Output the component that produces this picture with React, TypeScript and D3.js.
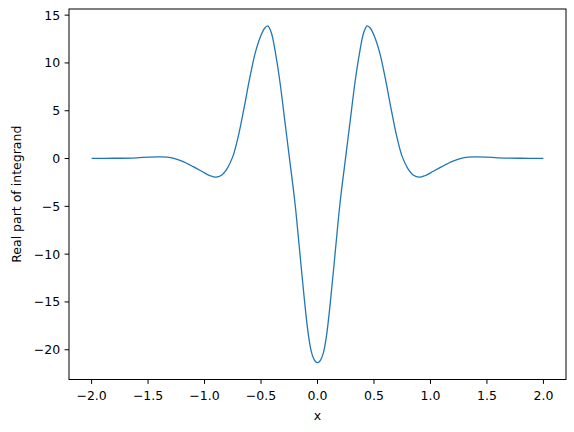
import { useMemo } from "react";
import * as d3 from "d3";

const WIDTH = 574;
const HEIGHT = 432;
const FRAME = { left: 69, right: 566, top: 9, bottom: 379.5 };

// values
const xValues = [
  -2.0, -1.8, -1.6, -1.5, -1.4, -1.3, -1.2, -1.1, -1.0, -0.95, -0.9, -0.85, -0.8, -0.75, -0.7,
  -0.65, -0.6, -0.55, -0.5, -0.47, -0.44, -0.41, -0.37, -0.33, -0.29, -0.25, -0.2, -0.16,
  -0.12, -0.08, -0.05, -0.02, 0, 0.02, 0.05, 0.08, 0.12, 0.16, 0.2, 0.25, 0.29, 0.33, 0.37,
  0.41, 0.44, 0.47, 0.5, 0.55, 0.6, 0.65, 0.7, 0.75, 0.8, 0.85, 0.9, 0.95, 1.0, 1.1, 1.2,
  1.3, 1.4, 1.5, 1.6, 1.8, 2.0,
];
const yValues = [
  0.02, 0.03, 0.08, 0.14, 0.17, 0.1, -0.28, -0.85, -1.5, -1.8, -1.95, -1.75, -1.05, 0.2, 2.4,
  5.3, 8.4, 11.1, 12.9, 13.6, 13.88, 13.2, 10.9, 7.8, 4.0, 0.2, -4.6, -9.4,
  -14.3, -18.5, -20.4, -21.2, -21.35, -21.2, -20.4, -18.5, -14.3, -9.4, -4.6, 0.2, 4.0, 7.8, 10.9,
  13.2, 13.88, 13.6, 12.9, 11.1, 8.4, 5.3, 2.4, 0.2, -1.05, -1.75, -1.95, -1.8, -1.5, -0.85, -0.28,
  0.1, 0.17, 0.14, 0.08, 0.03, 0.02,
];
const xTicks = [-2.0, -1.5, -1.0, -0.5, 0.0, 0.5, 1.0, 1.5, 2.0];
const yTicks = [-20, -15, -10, -5, 0, 5, 10, 15];

const FONT = "DejaVu Sans, sans-serif";
const TICK = 4.4;

export default function App() {
  const points = xValues.map((x, i) => [x, yValues[i]] as [number, number]);

  // matplotlib-style 5% margins around data
  const xScale = useMemo(() => {
    const [lo, hi] = d3.extent(xValues) as [number, number];
    const pad = (hi - lo) * 0.05;
    return d3.scaleLinear().domain([lo - pad, hi + pad]).range([FRAME.left, FRAME.right]);
  }, []);
  const yScale = useMemo(() => {
    const [lo, hi] = d3.extent(yValues) as [number, number];
    const pad = (hi - lo) * 0.05;
    return d3.scaleLinear().domain([lo - pad, hi + pad]).range([FRAME.bottom, FRAME.top]);
  }, []);

  const line = d3
    .line<[number, number]>()
    .x((d) => xScale(d[0]))
    .y((d) => yScale(d[1]))
    .curve(d3.curveCatmullRom.alpha(0.5));

  const fx = d3.format(".1f");
  const fy = d3.format("d");

  return (
    <div style={{ position: "absolute", left: 0, top: 0 }}>
      <svg width={WIDTH} height={HEIGHT} style={{ display: "block", background: "#fff" }}>
        <path d={line(points) ?? ""} fill="none" stroke="#1f77b4" strokeWidth={1.3} />
        <rect
          x={FRAME.left}
          y={FRAME.top}
          width={FRAME.right - FRAME.left}
          height={FRAME.bottom - FRAME.top}
          fill="none"
          stroke="#000"
          strokeWidth={1}
        />
        {xTicks.map((t) => (
          <g key={"x" + t}>
            <line
              x1={xScale(t)}
              x2={xScale(t)}
              y1={FRAME.bottom}
              y2={FRAME.bottom + TICK}
              stroke="#000"
              strokeWidth={1}
            />
            <text
              x={xScale(t)}
              y={399.5}
              textAnchor="middle"
              fontFamily={FONT}
              fontSize={12.5}
              fill="#000"
            >
              {fx(t)}
            </text>
          </g>
        ))}
        {yTicks.map((t) => (
          <g key={"y" + t}>
            <line
              x1={FRAME.left - TICK}
              x2={FRAME.left}
              y1={yScale(t)}
              y2={yScale(t)}
              stroke="#000"
              strokeWidth={1}
            />
            <text
              x={FRAME.left - TICK - 4.4}
              y={yScale(t)}
              dy="0.36em"
              textAnchor="end"
              fontFamily={FONT}
              fontSize={12.5}
              fill="#000"
            >
              {fy(t)}
            </text>
          </g>
        ))}
        <text
          x={(FRAME.left + FRAME.right) / 2}
          y={420}
          textAnchor="middle"
          fontFamily={FONT}
          fontSize={12.5}
          fill="#000"
        >
          x
        </text>
        <text
          transform={`translate(20.5,${(FRAME.top + FRAME.bottom) / 2}) rotate(-90)`}
          textAnchor="middle"
          fontFamily={FONT}
          fontSize={12.5}
          fill="#000"
        >
          Real part of integrand
        </text>
      </svg>
    </div>
  );
}
